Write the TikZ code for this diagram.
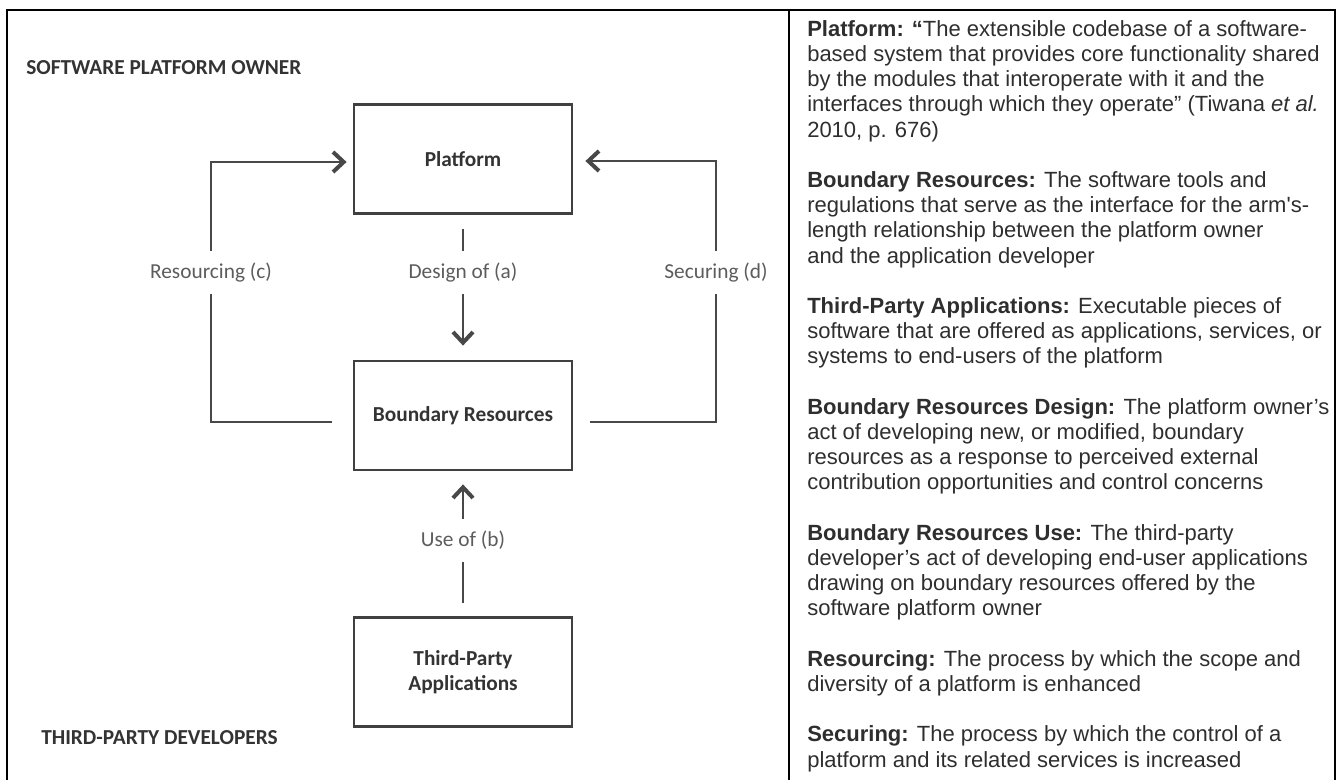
\documentclass[tikz,border=0pt]{standalone}
\usepackage{fontspec}
\setmainfont{Liberation Sans}
\newfontfamily\carlito{Carlito}
\usetikzlibrary{arrows.meta,calc}

\definecolor{boxline}{HTML}{404040}
\definecolor{flowline}{HTML}{484848}
\definecolor{labeltext}{HTML}{5C5C5C}
\definecolor{headtext}{HTML}{333333}
\definecolor{deftext}{HTML}{2E2E2E}

\tikzset{
  entity/.style={draw=boxline, line width=2.1pt, minimum width=163.5pt,
    minimum height=81.75pt, inner sep=0pt, align=center, text=headtext,
    font=\carlito\bfseries\fontsize{16}{19}\selectfont},
  flowlabel/.style={font=\carlito\fontsize{16}{19}\selectfont, text=labeltext,
    minimum height=32.25pt, inner sep=0pt},
  flow/.style={draw=flowline, line width=2pt},
  barbtip/.style={-{Straight Barb[length=8pt,width=15pt,line width=3pt]}},
  region/.style={font=\carlito\bfseries\fontsize{16}{19}\selectfont,
    text=headtext, anchor=west, inner sep=0pt},
}

\begin{document}
\begin{tikzpicture}[x=0.75pt,y=-0.75pt]
\useasboundingbox (0,0) rectangle (1341,780);

% frame and divider
\draw[line width=1.6pt] (7,780) -- (7,10) -- (1335,10) -- (1335,780);
\draw[line width=1.3pt] (789,10) -- (789,780);

% actor regions
\node[region] (owner) at (26,68) {SOFTWARE PLATFORM OWNER};
\node[region] (devs) at (41,738) {THIRD-PARTY DEVELOPERS};

% main entities
\node[entity] (plat) at (463,159) {Platform};
\node[entity] (bnd) at (463,415.5) {Boundary Resources};
\node[entity] (tpa) at (463,672) {Third-Party\\Applications};

% process labels
\node[flowlabel] (lda) at (463,272.5) {Design of (a)};
\node[flowlabel] (lub) at (463,540.5) {Use of (b)};
\node[flowlabel] (lrc) at (211,272.5) {Resourcing (c)};
\node[flowlabel] (lsd) at (716,272.5) {Securing (d)};

% design of boundary resources
\draw[flow, shorten <=10.5pt] (plat.south) -- (lda.north);
\draw[flow, barbtip, shorten >=10.5pt] (lda.south) -- (bnd.north);

% use of boundary resources
\draw[flow, shorten <=9.75pt] (tpa.north) -- (lub.south);
\draw[flow, barbtip, shorten >=9.75pt] (lub.north) -- (bnd.south);

% resourcing loop
\draw[flow, barbtip] (lrc.north) |- ([shift={(-6,3)}]plat.west);
\draw[flow] (lrc.south) |- ([shift={(-21,6.5)}]bnd.west);

% securing loop
\draw[flow, barbtip] (lsd.north) |- ([shift={(12,2)}]plat.east);
\draw[flow] (lsd.south) |- ([shift={(17,6.5)}]bnd.east);

% definitions
\node[anchor=north west, inner sep=0pt, align=left, text=deftext,
      font=\fontsize{16.5}{18.9}\selectfont] (defs) at (807,20) {%
\textbf{Platform: “}The extensible codebase of a software-\\
based system that provides core functionality shared\\
by the modules that interoperate with it and the\\
interfaces through which they operate” (Tiwana \textit{et al.}\\
2010, p. 676)\\[18.9pt]
\textbf{Boundary Resources:} The software tools and\\
regulations that serve as the interface for the arm\textquotesingle s-\\
length relationship between the platform owner\\
and the application developer\\[18.9pt]
\textbf{Third-Party Applications:} Executable pieces of\\
software that are offered as applications, services, or\\
systems to end-users of the platform\\[18.9pt]
\textbf{Boundary Resources Design:} The platform owner’s\\
act of developing new, or modified, boundary\\
resources as a response to perceived external\\
contribution opportunities and control concerns\\[18.9pt]
\textbf{Boundary Resources Use:} The third-party\\
developer’s act of developing end-user applications\\
drawing on boundary resources offered by the\\
software platform owner\\[18.9pt]
\textbf{Resourcing:} The process by which the scope and\\
diversity of a platform is enhanced\\[18.9pt]
\textbf{Securing:} The process by which the control of a\\
platform and its related services is increased};
\end{tikzpicture}
\end{document}
